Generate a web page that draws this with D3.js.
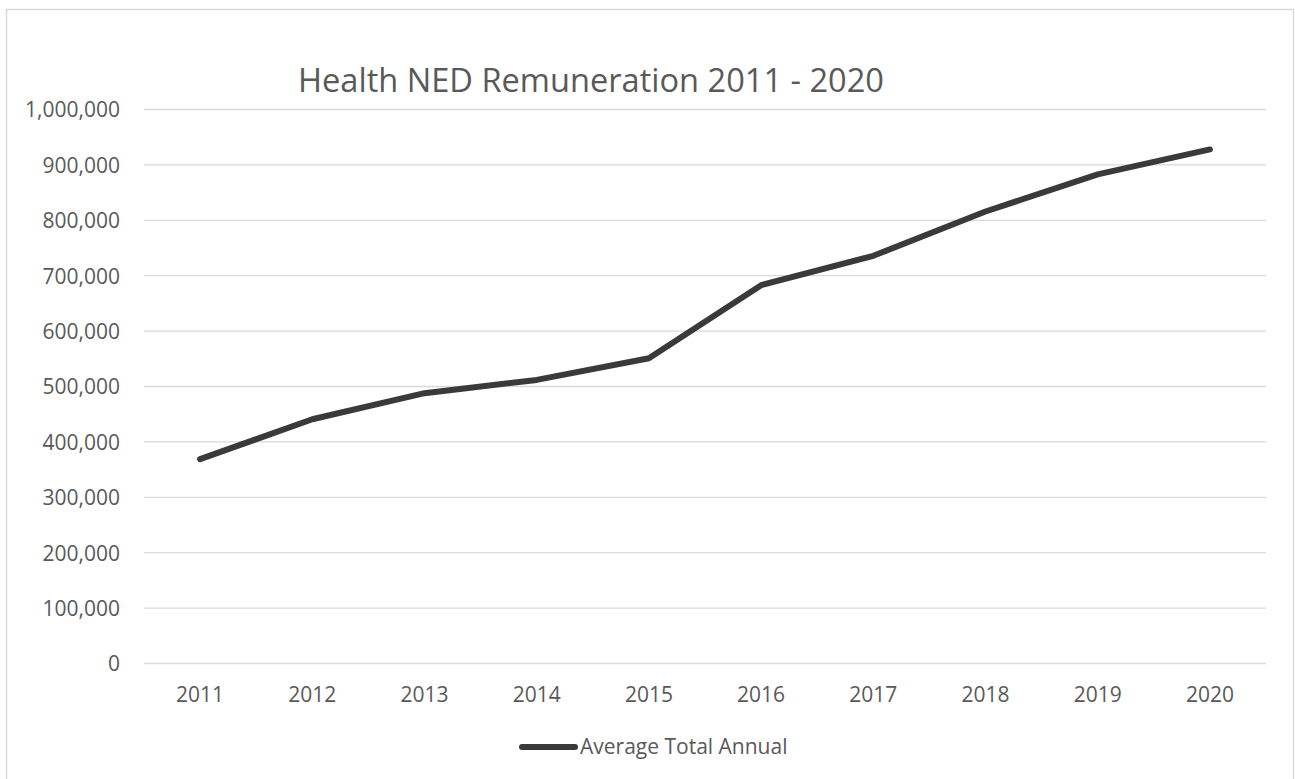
<!DOCTYPE html>
<html>
<head>
<meta charset="utf-8">
<script src="https://cdn.jsdelivr.net/npm/d3@7"></script>
<style>
  html, body { margin: 0; padding: 0; background: #fff; }
  svg { display: block; font-family: "Open Sans", sans-serif; }
</style>
</head>
<body>
<svg id="chart" width="1295" height="779"></svg>
<script>
const title = "Health NED Remuneration 2011 - 2020";
const seriesName = "Average Total Annual";
const years = ["2011","2012","2013","2014","2015","2016","2017","2018","2019","2020"];
const values = [368000, 440000, 487000, 511000, 550000, 682000, 735000, 815000, 882000, 927000];
const yTicks = [0,100000,200000,300000,400000,500000,600000,700000,800000,900000,1000000];

const svg = d3.select("#chart");
const plot = {left: 144, right: 1266, top: 109, bottom: 663};
const textColor = "#595959", gridColor = "#d9d9d9", lineColor = "#3a3a3a";

// outer border
svg.append("rect")
  .attr("x", 6.5).attr("y", 9.5)
  .attr("width", 1287).attr("height", 800)
  .attr("fill", "none").attr("stroke", gridColor).attr("stroke-width", 1.5);

const x = d3.scaleBand().domain(years).range([plot.left, plot.right]).padding(0);
const y = d3.scaleLinear().domain([0, 1000000]).range([plot.bottom, plot.top]);
const fmt = d3.format(",");

// gridlines
const grid = svg.append("g").attr("transform", `translate(${plot.left},0)`)
  .call(d3.axisLeft(y).tickValues(yTicks).tickSize(-(plot.right - plot.left)).tickFormat(""));
grid.select(".domain").remove();
grid.selectAll("line").attr("stroke", gridColor).attr("stroke-width", 1.3);

// y axis labels
const yAxis = svg.append("g").attr("transform", `translate(${plot.left},0)`)
  .call(d3.axisLeft(y).tickValues(yTicks).tickSize(0).tickPadding(24).tickFormat(fmt));
yAxis.select(".domain").remove();
yAxis.selectAll("text")
  .attr("fill", textColor).attr("font-size", 21)
  .attr("font-family", "Open Sans, sans-serif")
  .attr("dy", "0.38em");

// x axis labels
const xAxis = svg.append("g").attr("transform", `translate(0,${plot.bottom})`)
  .call(d3.axisBottom(x).tickSize(0).tickPadding(24));
xAxis.select(".domain").remove();
xAxis.selectAll("text")
  .attr("fill", textColor).attr("font-size", 21)
  .attr("font-family", "Open Sans, sans-serif");

// line
const line = d3.line()
  .x((d, i) => x(years[i]) + x.bandwidth() / 2)
  .y(d => y(d));
svg.append("path")
  .datum(values)
  .attr("d", line)
  .attr("fill", "none")
  .attr("stroke", lineColor)
  .attr("stroke-width", 6)
  .attr("stroke-linecap", "round")
  .attr("stroke-linejoin", "round");

// title
svg.append("text")
  .attr("x", 298).attr("y", 92)
  .attr("fill", textColor)
  .attr("font-size", 32.6)
  .text(title);

// legend
svg.append("line")
  .attr("x1", 522).attr("x2", 575)
  .attr("y1", 747).attr("y2", 747)
  .attr("stroke", lineColor).attr("stroke-width", 6)
  .attr("stroke-linecap", "round");
svg.append("text")
  .attr("x", 580).attr("y", 754)
  .attr("fill", textColor)
  .attr("font-size", 21)
  .text(seriesName);
</script>
</body>
</html>
